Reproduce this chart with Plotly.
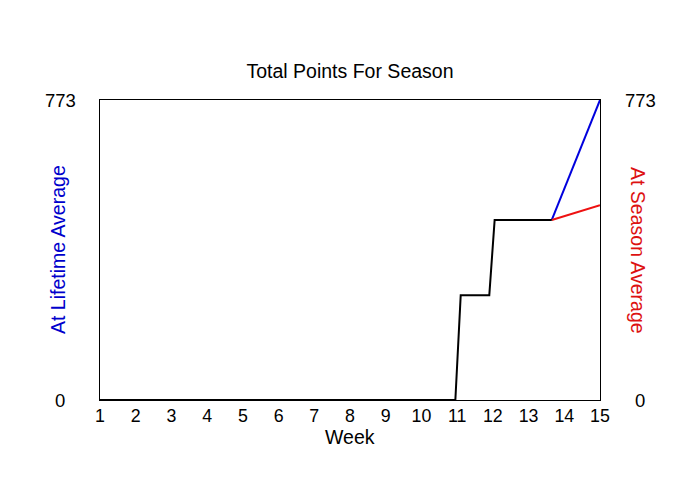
import plotly.graph_objects as go

# Data
week_actual = [1, 2, 3, 4, 5, 6, 7, 8, 9, 10, 10.95, 11.1, 11.9, 12.05, 13.65]
pts_actual = [0, 0, 0, 0, 0, 0, 0, 0, 0, 0, 0, 270, 270, 464, 464]

week_proj = [13.65, 15]
pts_lifetime = [464, 773]

week_season = [13.65, 14.3, 15]
pts_season = [464, 482, 502]

x_ticks = list(range(1, 16))
y_max = 773
y_labels = ["0", "773"]
y_vals = [0, 773]

FONT = "Liberation Sans, Arial, sans-serif"
FS = 18.5
FX = 17.8
FT = 19.5

fig = go.Figure()
fig.add_trace(go.Scatter(x=week_proj, y=pts_lifetime, mode="lines",
                         line=dict(color="#0000dd", width=2), showlegend=False))
fig.add_trace(go.Scatter(x=week_season, y=pts_season, mode="lines",
                         line=dict(color="#ee1111", width=2), showlegend=False))
fig.add_trace(go.Scatter(x=week_actual, y=pts_actual, mode="lines",
                         line=dict(color="black", width=2), showlegend=False))

annotations = []
for v, t in zip(y_vals, y_labels):
    annotations.append(dict(x=0, xref="paper", y=v, yref="y", text=t, showarrow=False,
                            xanchor="center", yanchor="middle", xshift=-40,
                            font=dict(family=FONT, size=FS, color="black")))
    annotations.append(dict(x=1, xref="paper", y=v, yref="y", text=t, showarrow=False,
                            xanchor="center", yanchor="middle", xshift=40,
                            font=dict(family=FONT, size=FS, color="black")))
annotations.append(dict(x=0, xref="paper", y=0.5, yref="paper", text="At Lifetime Average",
                        showarrow=False, textangle=-90, xanchor="center", yanchor="middle",
                        xshift=-42, font=dict(family=FONT, size=FT, color="#0000cc")))
annotations.append(dict(x=1, xref="paper", y=0.5, yref="paper", text="At Season Average",
                        showarrow=False, textangle=90, xanchor="center", yanchor="middle",
                        xshift=38, font=dict(family=FONT, size=FT, color="#dd1111")))
annotations.append(dict(x=0.5, xref="paper", y=0, yref="paper", text="Week",
                        showarrow=False, xanchor="center", yanchor="top", borderpad=0,
                        yshift=-25, font=dict(family=FONT, size=FT, color="black")))

fig.update_layout(
    width=700, height=500,
    margin=dict(l=100, r=100, t=100, b=100),
    paper_bgcolor="white", plot_bgcolor="white",
    font=dict(family=FONT, size=FS, color="black"),
    title=dict(text="Total Points For Season", x=0.5, xanchor="center",
               y=1 - 71 / 500, yanchor="middle", yref="container",
               font=dict(family=FONT, size=FT, color="black")),
    xaxis=dict(range=[1, 15], tickvals=x_ticks, ticktext=[str(v) for v in x_ticks],
               showgrid=False, zeroline=False, showline=True, mirror=True,
               linecolor="black", linewidth=1, ticks="",
               tickfont=dict(family=FONT, size=FX)),
    yaxis=dict(range=[0, y_max], showticklabels=False, showgrid=False, zeroline=False,
               showline=True, mirror=True, linecolor="black", linewidth=1, ticks=""),
    annotations=annotations,
)

fig.write_html("out.html")
